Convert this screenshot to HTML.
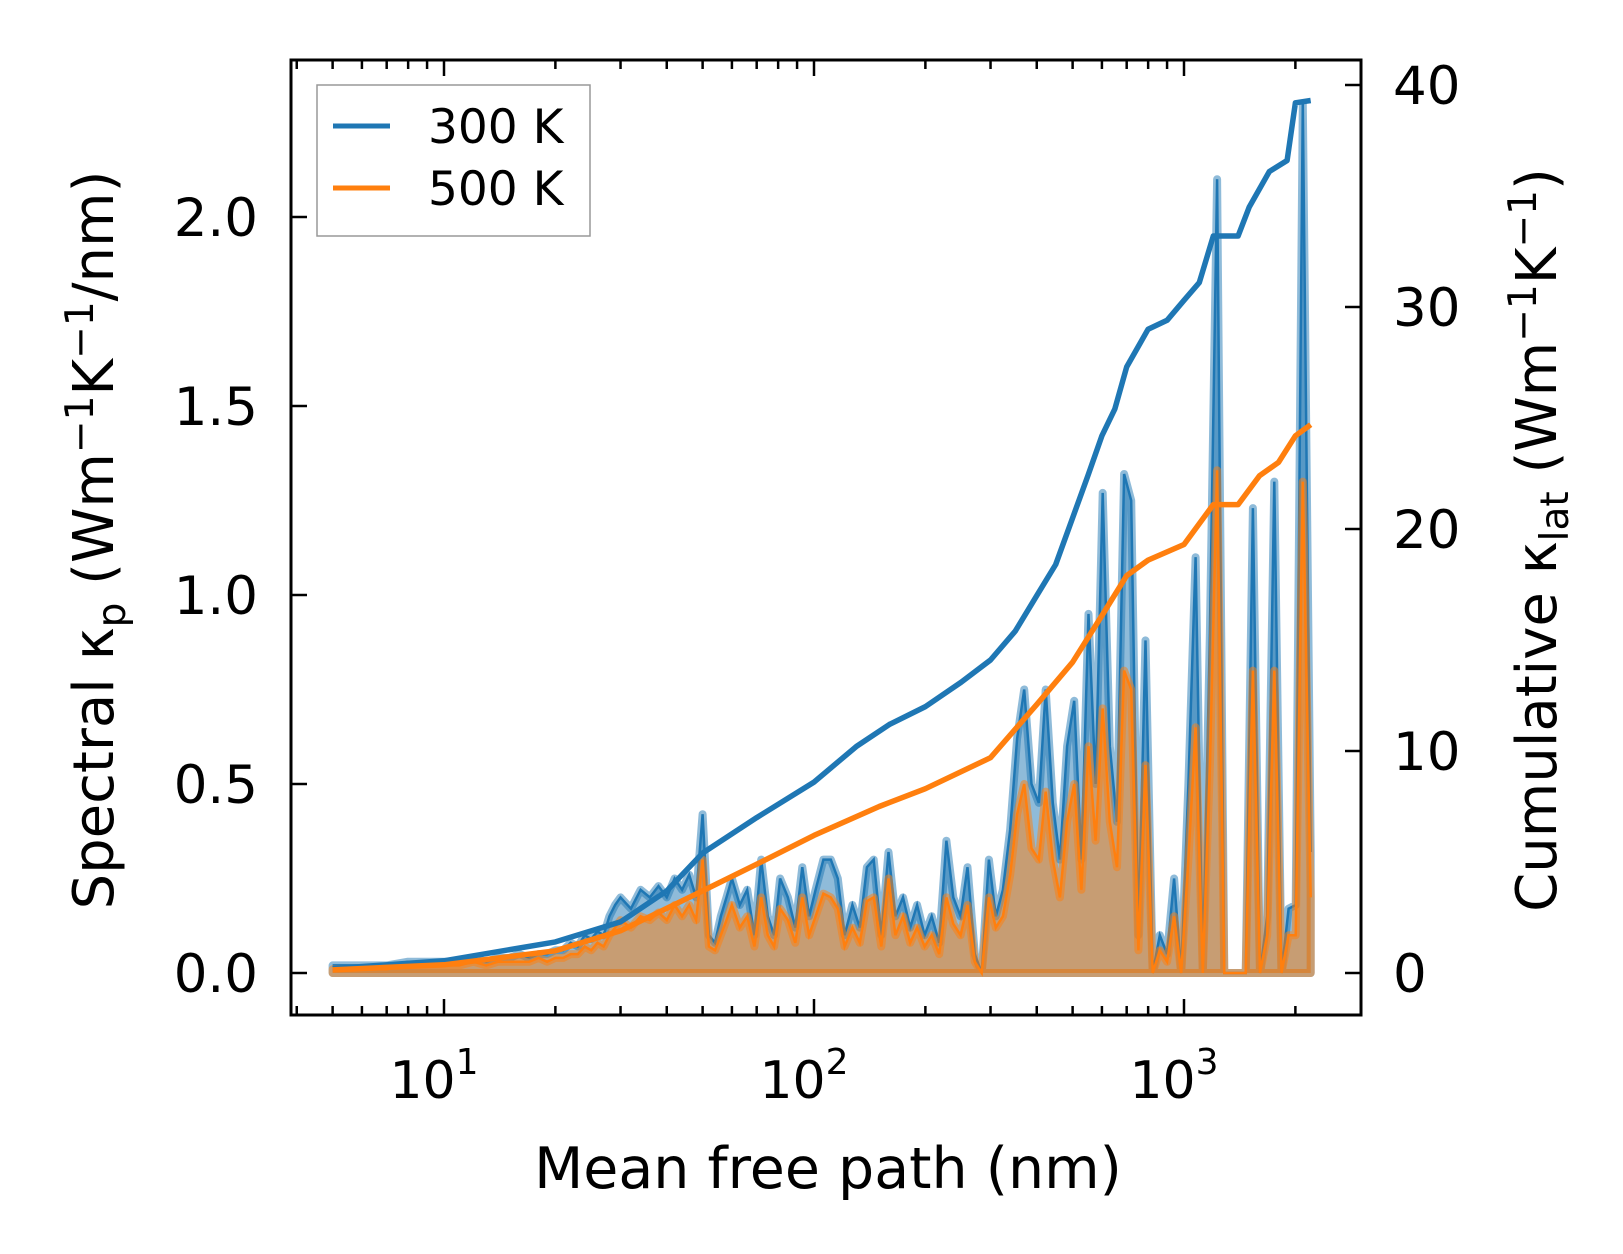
<!DOCTYPE html>
<html><head><meta charset="utf-8"><style>
html,body{margin:0;padding:0;background:#fff;}
svg{display:block;font-family:"DejaVu Sans","Liberation Sans",sans-serif;}
</style></head><body>
<svg id="chart" width="1623" height="1254" viewBox="0 0 1623 1254" xmlns="http://www.w3.org/2000/svg">
<g id="fills"></g>
<g id="lines"></g>
<g id="axes"></g>
<g>
<rect x="317" y="85" width="273" height="151" fill="#fff" fill-opacity="0.8" stroke="#999" stroke-width="1.5"/>
<line x1="333" y1="126" x2="390" y2="126" stroke="#1f77b4" stroke-width="5"/>
<text x="428" y="143" font-size="47">300 K</text>
<line x1="333" y1="188" x2="390" y2="188" stroke="#ff7f0e" stroke-width="5"/>
<text x="428" y="205" font-size="47">500 K</text>
</g>
<text x="828" y="1188" font-size="57" text-anchor="middle">Mean free path (nm)</text>
<text transform="translate(113,540) rotate(-90)" font-size="56" text-anchor="middle">Spectral κ<tspan font-size="39" dy="12">p</tspan><tspan dy="-12"> (Wm</tspan><tspan font-size="39" dy="-20">−1</tspan><tspan dy="20">K</tspan><tspan font-size="39" dy="-20">−1</tspan><tspan dy="20">/nm)</tspan></text>
<text transform="translate(1556,540) rotate(-90)" font-size="56" text-anchor="middle">Cumulative κ<tspan font-size="39" dy="12">lat</tspan><tspan dy="-12"> (Wm</tspan><tspan font-size="39" dy="-20">−1</tspan><tspan dy="20">K</tspan><tspan font-size="39" dy="-20">−1</tspan><tspan dy="20">)</tspan></text>
</svg>
<script>
const mfp = [5,6,7,8,9,10,11,12,13,14,15,16,17,18,19,20,21,22,23,24,25,26,27,28,29,30,32,34,36,38,40,42,44,46,48,50,52,54,56,58,60,63,66,69,72,75,78,81,85,89,93,97,101,106,111,116,121,127,133,139,145,152,159,166,174,182,190,199,208,218,228,238,249,260,272,284,297,310,324,339,354,370,387,405,423,442,462,483,505,528,552,577,603,630,659,689,720,753,787,823,860,900,940,983,1028,1075,1124,1175,1229,1285,1343,1404,1468,1535,1605,1678,1754,1834,1917,2004,2095,2200];
const spec300 = [.02,.02,.02,.03,.03,.03,.03,.04,.03,.04,.04,.05,.04,.05,.05,.06,.06,.08,.07,.1,.09,.11,.1,.15,.18,.2,.17,.22,.2,.23,.2,.25,.22,.26,.2,.42,.1,.08,.15,.2,.25,.18,.22,.1,.3,.15,.1,.25,.2,.12,.28,.15,.22,.3,.3,.25,.1,.18,.12,.28,.3,.1,.32,.15,.2,.12,.18,.1,.15,.08,.35,.2,.15,.28,.05,0,.3,.15,.22,.38,.62,.75,.5,.45,.75,.45,.3,.6,.72,.3,.95,.5,1.27,.6,.4,1.32,1.25,.1,.88,0,.1,.05,.25,0,.5,1.1,0,.9,2.1,0,0,0,0,1.23,0,.15,1.3,0,.17,.18,2.3,.32];
const spec500 = [.01,.01,.01,.02,.02,.02,.02,.03,.02,.03,.03,.03,.03,.04,.03,.04,.04,.05,.05,.07,.06,.08,.07,.1,.12,.14,.12,.15,.14,.16,.14,.18,.15,.18,.14,.3,.07,.06,.1,.14,.18,.12,.15,.07,.2,.1,.07,.17,.14,.08,.2,.1,.15,.21,.2,.17,.07,.12,.08,.19,.2,.07,.25,.1,.15,.08,.12,.07,.1,.05,.2,.13,.1,.18,.03,0,.2,.12,.15,.26,.42,.5,.33,.3,.48,.3,.2,.4,.5,.22,.6,.35,.7,.4,.28,.8,.75,.06,.55,0,.06,.03,.15,0,.3,.65,0,.55,1.33,0,0,0,0,.8,0,.1,.8,0,.1,.1,1.3,.2];
const cumX = [5,10,20,30,40,50,70,100,130,160,200,250,300,350,400,450,500,550,600,650,700,800,900,1000,1100,1200,1400,1500,1700,1900,2000,2200];
const cum300 = [.2,.55,1.4,2.3,3.7,5.4,7.0,8.6,10.2,11.2,12.0,13.1,14.1,15.4,17.0,18.4,20.5,22.4,24.2,25.4,27.3,29.0,29.4,30.3,31.1,33.2,33.2,34.5,36.1,36.6,39.2,39.3];
const cum500X = [5,10,20,30,50,70,100,150,200,300,400,500,600,700,800,1000,1200,1400,1600,1800,2000,2200];
const cum500 = [.14,.37,1.0,1.9,3.7,4.9,6.2,7.5,8.3,9.7,12.1,14.0,16.1,17.9,18.6,19.3,21.1,21.1,22.4,23.0,24.2,24.7];
const leftTicks = [0,0.5,1,1.5,2];
const leftTickLabels = ["0.0","0.5","1.0","1.5","2.0"];
const rightTicks = [0,10,20,30,40];
const xTickExp = [1,2,3];

const L=291,R=1361,T=60,B=1015;
const xs = v => 444 + 370*(Math.log10(v)-1);
const yl = v => 973 - v*378;
const yr = v => 973 - v*22.2;
const NS="http://www.w3.org/2000/svg";
function mk(parent,tag,attrs){const e=document.createElementNS(NS,tag);for(const k in attrs)e.setAttribute(k,attrs[k]);document.getElementById(parent).appendChild(e);return e;}

function areaPath(xv,yv){let d=`M${xs(xv[0])},${yl(0)}`;xv.forEach((x,i)=>d+=`L${xs(x).toFixed(1)},${yl(yv[i]).toFixed(1)}`);d+=`L${xs(xv[xv.length-1])},${yl(0)}Z`;return d;}
function linePath(xv,yv,ys){return xv.map((x,i)=>(i?'L':'M')+xs(x).toFixed(1)+','+ys(yv[i]).toFixed(1)).join('');}

let e;
e=mk('fills','path',{d:areaPath(mfp,spec300),fill:'#1f77b4','fill-opacity':0.5,stroke:'#1f77b4','stroke-opacity':0.5,'stroke-width':8,'stroke-linejoin':'round'});


e=mk('fills','path',{d:linePath(mfp,spec300,yl),fill:'none',stroke:'#1f77b4','stroke-width':2.5});


e=mk('fills','path',{d:areaPath(mfp,spec500),fill:'#ff7f0e','fill-opacity':0.5,stroke:'#ff7f0e','stroke-opacity':0.5,'stroke-width':8,'stroke-linejoin':'round'});


e=mk('fills','path',{d:linePath(mfp,spec500,yl),fill:'none',stroke:'#ff7f0e','stroke-width':2.5});


e=mk('lines','path',{d:linePath(cumX,cum300,yr),fill:'none',stroke:'#1f77b4','stroke-width':5.5,'stroke-linejoin':'round'});


e=mk('lines','path',{d:linePath(cum500X,cum500,yr),fill:'none',stroke:'#ff7f0e','stroke-width':5.5,'stroke-linejoin':'round'});



e=mk('axes','rect',{x:L,y:T,width:R-L,height:B-T,fill:'none',stroke:'#000','stroke-width':3});


for(let d=0;d<=3;d++){for(let m=1;m<=9;m++){const v=m*Math.pow(10,d);const x=xs(v);if(x<L+2||x>R-2)continue;const len=m===1?16:9;
 e=mk('axes','line',{x1:x,y1:B,x2:x,y2:B-len,stroke:'#000','stroke-width':2.5});
 
 
 e=mk('axes','line',{x1:x,y1:T,x2:x,y2:T+len,stroke:'#000','stroke-width':2.5});
 
 }}
xTickExp.forEach(p=>{const x=xs(Math.pow(10,p));
 e=mk('axes','text',{x:x-10,y:1098,'font-size':52,'text-anchor':'middle'});
 
 
 e.innerHTML=`10<tspan font-size="36" dy="-24">${p}</tspan>`;});
leftTicks.forEach((v,i)=>{const y=yl(v);
 e=mk('axes','line',{x1:L,y1:y,x2:L+16,y2:y,stroke:'#000','stroke-width':2.5});
 
 
 e=mk('axes','text',{x:258,y:y+19,'font-size':53,'text-anchor':'end'});
 
 
 e.textContent=leftTickLabels[i];});
rightTicks.forEach(v=>{const y=yr(v);
 e=mk('axes','line',{x1:R,y1:y,x2:R-16,y2:y,stroke:'#000','stroke-width':2.5});
 
 
 e=mk('axes','text',{x:1393,y:y+19,'font-size':53,'text-anchor':'start'});
 
 
 e.textContent=v;});
</script>
</body></html>
